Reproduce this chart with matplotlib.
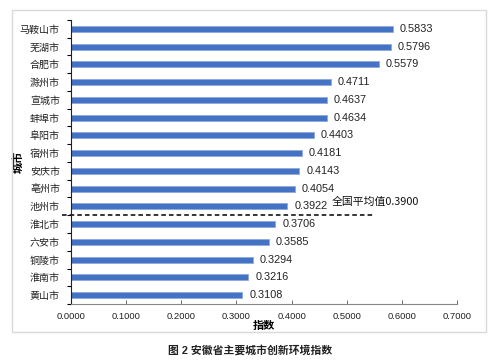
import matplotlib.pyplot as plt
from matplotlib.patches import Rectangle
import numpy as np

plt.rcParams['font.family'] = ['Liberation Sans', 'Noto Sans CJK SC']

# data, top to bottom
cities = ['马鞍山市', '芜湖市', '合肥市', '滁州市', '宣城市', '蚌埠市', '阜阳市', '宿州市',
          '安庆市', '亳州市', '池州市', '淮北市', '六安市', '铜陵市', '淮南市', '黄山市']
values = [0.5833, 0.5796, 0.5579, 0.4711, 0.4637, 0.4634, 0.4403, 0.4181,
          0.4143, 0.4054, 0.3922, 0.3706, 0.3585, 0.3294, 0.3216, 0.3108]
national_avg = 0.39
avg_label = '全国平均值0.3900'
xticks = [0.0, 0.1, 0.2, 0.3, 0.4, 0.5, 0.6, 0.7]

fig = plt.figure(figsize=(5, 3.61), dpi=100)
# light frame around the chart
fig.patches.append(Rectangle((12 / 500, 29 / 361), 474 / 500, 322 / 361,
                             transform=fig.transFigure, fill=False,
                             edgecolor='#d9d9d9', linewidth=1))

ax = fig.add_axes([71 / 500, 57 / 361, 386 / 500, 284 / 361])
y = np.arange(len(cities))
ax.barh(y, values, height=0.33, color='#4472C4', edgecolor='#8FAADC', linewidth=0.6)
ax.set_ylim(len(cities) - 0.5, -0.5)
ax.set_xlim(0, 0.7)

for yi, v in zip(y, values):
    ax.annotate('%.4f' % v, (v, yi), xytext=(5, 0), textcoords='offset points',
                va='center', ha='left', fontsize=7.8, color='#222222')

# national average line
split = 10.5
ax.plot([-0.017, 0.548], [split, split], color='black', linewidth=1.1,
        linestyle=(0, (3, 2)), clip_on=False)
ax.text(0.473, 9.75, avg_label, fontsize=7.8, color='#111111', va='center', ha='left',
        family=['Noto Sans CJK SC'])

ax.set_yticks(y)
ax.set_yticklabels(cities, fontsize=7.2, color='#222222')
ax.set_yticks(np.arange(len(cities) + 1) - 0.5, minor=True)
ax.tick_params(axis='y', which='major', length=0, pad=8)
ax.tick_params(axis='y', which='minor', length=3, direction='out', width=0.8)
ax.set_xticks(xticks)
ax.set_xticklabels(['%.4f' % t for t in xticks], fontsize=6.8, color='#222222')
ax.tick_params(axis='x', direction='in', length=3, width=0.6, pad=6, color='#555555')

for s in ['top', 'right']:
    ax.spines[s].set_visible(False)
ax.spines['left'].set_color('#222222')
ax.spines['bottom'].set_color('#888888')

ax.set_xlabel('指数', fontsize=8, fontweight='bold', labelpad=0)
ax.xaxis.set_label_coords(0.5, -0.06)
ax.set_ylabel('城市', fontsize=8, fontweight='bold')
ax.yaxis.set_label_coords(-0.122, 0.5)

fig.text(0.5, 11 / 361, '图 2 安徽省主要城市创新环境指数', ha='center', va='center',
         fontsize=7.8, fontweight='bold', color='#222222')

plt.savefig('out.png', dpi=100)
